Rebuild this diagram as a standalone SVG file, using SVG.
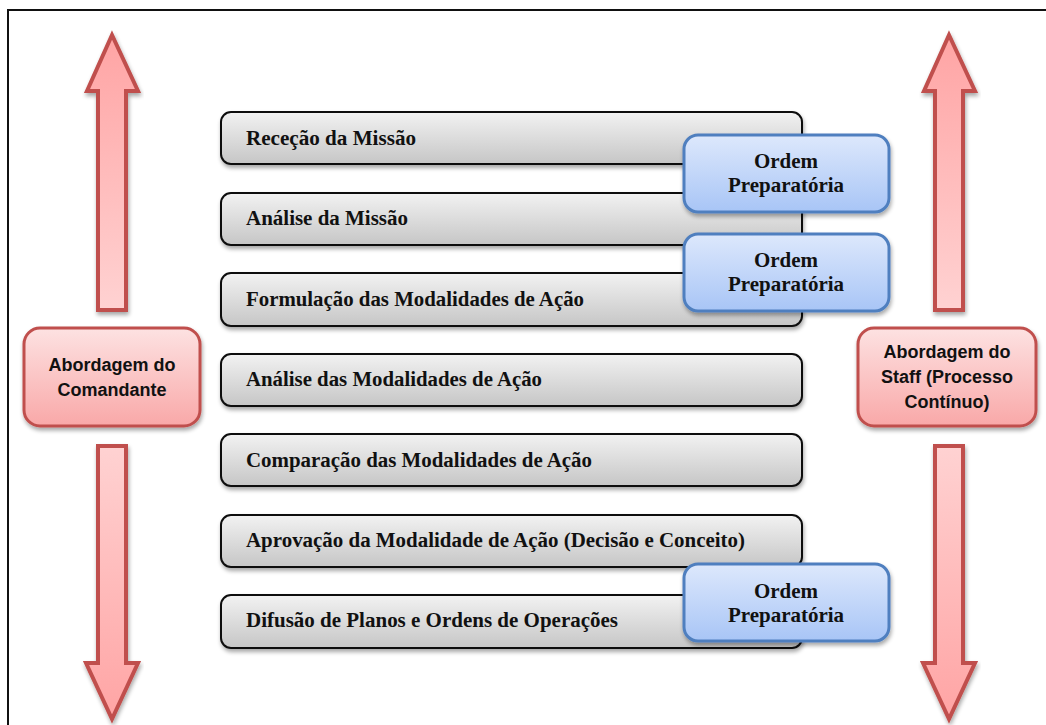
<svg xmlns="http://www.w3.org/2000/svg" width="1046" height="725" viewBox="0 0 1046 725">
<defs>
<linearGradient id="gGray" x1="0" y1="0" x2="0" y2="1"><stop offset="0" stop-color="#f2f2f2"/><stop offset="1" stop-color="#c6c6c6"/></linearGradient>
<linearGradient id="gBlue" x1="0" y1="0" x2="0" y2="1"><stop offset="0" stop-color="#dde8fc"/><stop offset="1" stop-color="#a8c5f6"/></linearGradient>
<linearGradient id="gRed" x1="0" y1="0" x2="0" y2="1"><stop offset="0" stop-color="#fde2e2"/><stop offset="1" stop-color="#f9a8a8"/></linearGradient>
<linearGradient id="gArrowUp" x1="0" y1="0" x2="0" y2="1"><stop offset="0" stop-color="#ffa4a4"/><stop offset="1" stop-color="#ffd2d2"/></linearGradient>
<linearGradient id="gArrowDn" x1="0" y1="0" x2="0" y2="1"><stop offset="0" stop-color="#ffd2d2"/><stop offset="1" stop-color="#ffa4a4"/></linearGradient>
<filter id="sh" x="-10%" y="-10%" width="120%" height="130%"><feGaussianBlur in="SourceAlpha" stdDeviation="2"/><feOffset dx="1" dy="3"/><feComponentTransfer><feFuncA type="linear" slope="0.35"/></feComponentTransfer><feMerge><feMergeNode/><feMergeNode in="SourceGraphic"/></feMerge></filter>
</defs>
<style>
.step{fill:url(#gGray);stroke:#111;stroke-width:2}
.st{font-family:"Liberation Serif","Times New Roman",serif;font-weight:bold;font-size:20px;fill:#111}
.ord{fill:url(#gBlue);stroke:#4f7fbf;stroke-width:3}
.ot{font-family:"Liberation Serif","Times New Roman",serif;font-weight:bold;font-size:21px;fill:#111;text-anchor:middle}
.ab{fill:url(#gRed);stroke:#c0504d;stroke-width:3}
.at{font-family:"Liberation Sans",Arial,sans-serif;font-weight:bold;font-size:18px;fill:#111;text-anchor:middle}
.arU{fill:url(#gArrowUp);stroke:#c0504d;stroke-width:4;stroke-linejoin:miter}
.arD{fill:url(#gArrowDn);stroke:#c0504d;stroke-width:4;stroke-linejoin:miter}
</style>
<rect width="1046" height="725" fill="#fff"/>
<path d="M8 725 V10 H1046" fill="none" stroke="#111" stroke-width="2"/>

<g id="connectors">
<path class="arU" filter="url(#sh)" d="M112 35 L87 91 L98 91 L98 310 L126 310 L126 91 L138 91 Z"/>
<path class="arD" filter="url(#sh)" d="M98 446 L126 446 L126 663 L138 663 L112 719 L86 663 L98 663 Z"/>
<path class="arU" filter="url(#sh)" d="M949 35 L924 91 L935 91 L935 310 L963 310 L963 91 L975 91 Z"/>
<path class="arD" filter="url(#sh)" d="M935 446 L963 446 L963 663 L975 663 L949 719 L923 663 L935 663 Z"/>
</g>

<g id="step1"><rect class="step" filter="url(#sh)" x="221" y="112" width="581" height="52" rx="10"/><text class="st" x="246" y="145" textLength="170" lengthAdjust="spacingAndGlyphs">Receção da Missão</text></g>
<g id="step2"><rect class="step" filter="url(#sh)" x="221" y="193" width="581" height="52" rx="10"/><text class="st" x="246" y="225" textLength="162" lengthAdjust="spacingAndGlyphs">Análise da Missão</text></g>
<g id="step3"><rect class="step" filter="url(#sh)" x="221" y="273" width="581" height="53" rx="10"/><text class="st" x="246" y="306" textLength="338" lengthAdjust="spacingAndGlyphs">Formulação das Modalidades de Ação</text></g>
<g id="step4"><rect class="step" filter="url(#sh)" x="221" y="354" width="581" height="52" rx="10"/><text class="st" x="246" y="386" textLength="296" lengthAdjust="spacingAndGlyphs">Análise das Modalidades de Ação</text></g>
<g id="step5"><rect class="step" filter="url(#sh)" x="221" y="434" width="581" height="52" rx="10"/><text class="st" x="246" y="467" textLength="346" lengthAdjust="spacingAndGlyphs">Comparação das Modalidades de Ação</text></g>
<g id="step6"><rect class="step" filter="url(#sh)" x="221" y="515" width="581" height="52" rx="10"/><text class="st" x="246" y="547" textLength="499" lengthAdjust="spacingAndGlyphs">Aprovação da Modalidade de Ação (Decisão e Conceito)</text></g>
<g id="step7"><rect class="step" filter="url(#sh)" x="221" y="595" width="581" height="53" rx="10"/><text class="st" x="246" y="627" textLength="372" lengthAdjust="spacingAndGlyphs">Difusão de Planos e Ordens de Operações</text></g>

<g id="ordem1"><rect class="ord" filter="url(#sh)" x="684" y="135" width="205" height="77" rx="14"/><text class="ot" x="786" y="168">Ordem</text><text class="ot" x="786" y="192">Preparatória</text></g>
<g id="ordem2"><rect class="ord" filter="url(#sh)" x="684" y="234" width="205" height="77" rx="14"/><text class="ot" x="786" y="267">Ordem</text><text class="ot" x="786" y="291">Preparatória</text></g>
<g id="ordem3"><rect class="ord" filter="url(#sh)" x="684" y="564" width="205" height="77" rx="14"/><text class="ot" x="786" y="598">Ordem</text><text class="ot" x="786" y="622">Preparatória</text></g>

<g id="abCmd"><rect class="ab" filter="url(#sh)" x="24" y="328" width="176" height="98" rx="16"/><text class="at" x="112" y="371">Abordagem do</text><text class="at" x="112" y="396">Comandante</text></g>
<g id="abStaff"><rect class="ab" filter="url(#sh)" x="858" y="328" width="178" height="98" rx="16"/><text class="at" x="947" y="358">Abordagem do</text><text class="at" x="947" y="383">Staff (Processo</text><text class="at" x="947" y="408">Contínuo)</text></g>
</svg>
